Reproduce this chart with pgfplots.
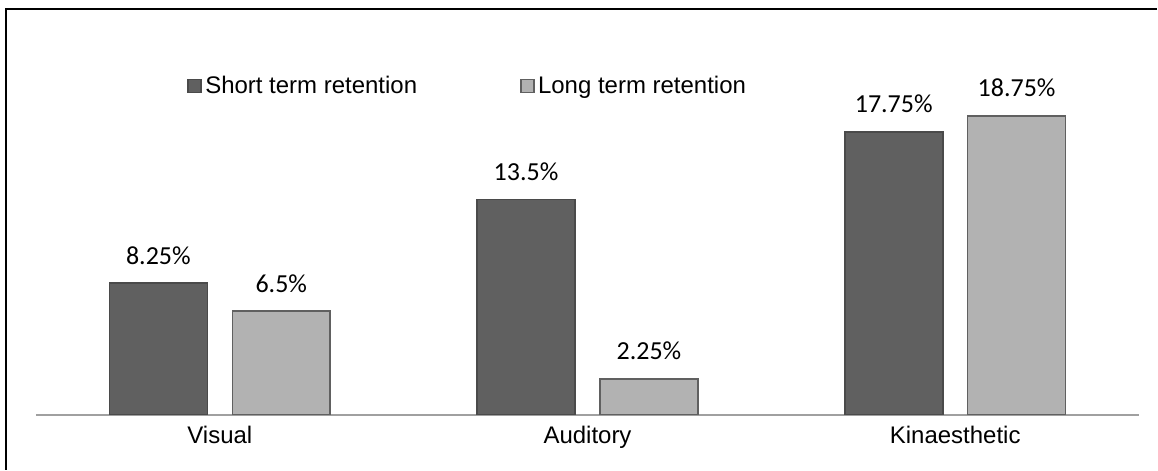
\documentclass[border=0pt]{standalone}
\usepackage{pgfplots}
\pgfplotsset{compat=1.18}
\usepackage{fontspec}
\setmainfont{Liberation Sans}
\newfontfamily\calibri{Carlito}

\definecolor{darkbar}{HTML}{606060}
\definecolor{darkedge}{HTML}{4A4A4A}
\definecolor{lightbar}{HTML}{B2B2B2}
\definecolor{lightedge}{HTML}{606060}
\definecolor{baseline}{HTML}{A0A0A0}

\begin{document}
\begin{tikzpicture}
\begin{axis}[
	at={(18pt,27.5pt)}, anchor=south west,
	scale only axis,
	width=552pt, height=159.5pt,
	xmin=-0.5, xmax=2.5,
	ymin=0, ymax=20,
	axis x line*=bottom,
	axis y line=none,
	x axis line style={color=baseline, line width=1pt},
	xtick={0,1,2},
	xticklabels={Visual,Auditory,Kinaesthetic},
	major tick length=0pt,
	xticklabel style={font=\fontsize{12}{14}\selectfont, inner sep=0pt, yshift=-5.5pt},
	ybar=12.5pt,
	bar width=49pt,
	nodes near coords={\pgfmathprintnumber[assume math mode=true]{\pgfplotspointmeta}\%},
	every node near coord/.append style={font=\calibri\fontsize{13}{15}\selectfont, inner sep=0pt, anchor=south, yshift=9pt},
	legend columns=2,
	legend style={at={(0.137,1.031)}, anchor=west, draw=none, fill=none,
		font=\fontsize{12}{14}\selectfont, inner sep=0pt,
		nodes={inner xsep=1.6pt, inner ysep=0pt},
		/tikz/every even column/.append style={column sep=50pt}},
	legend image code/.code={\draw[#1] (0pt,-3.25pt) rectangle (6.5pt,3.25pt);},
	clip=false,
]
\addplot[fill=darkbar, draw=darkedge, line width=0.8pt]
	coordinates {(0,8.25) (1,13.5) (2,17.75)};
\addplot[fill=lightbar, draw=lightedge, line width=0.8pt]
	coordinates {(0,6.5) (1,2.25) (2,18.75)};
\legend{Short term retention, Long term retention}
\end{axis}
\draw[black, line width=1pt] (3pt,0pt) -- (3pt,230.5pt) -- (579pt,230.5pt);
\path[use as bounding box] (0pt,0pt) rectangle (579pt,235pt);
\end{tikzpicture}
\end{document}
